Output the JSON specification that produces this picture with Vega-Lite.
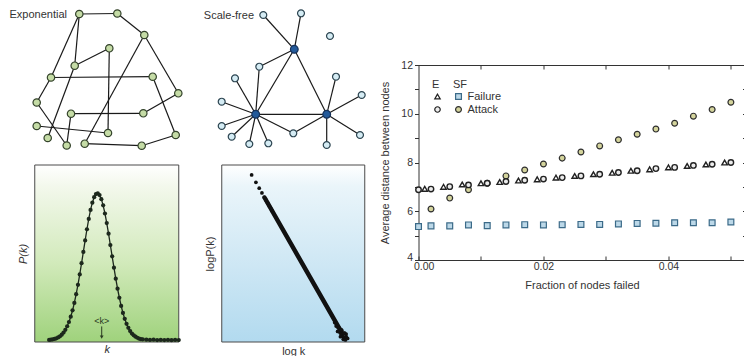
{
  "$schema": "https://vega.github.io/schema/vega-lite/v6.json",
  "padding": 0,
  "background": "white",
  "config": {
    "font": "Liberation Sans",
    "view": {"stroke": null},
    "axis": {"grid": false, "labelColor": "#333", "titleColor": "#333", "tickColor": "#333", "titleFontWeight": "normal", "labelFontSize": 11, "titleFontSize": 11},
    "legend": {"titleFontSize": 11, "titleFontWeight": "normal", "labelFontSize": 11, "titleColor": "#333", "labelColor": "#333", "symbolStrokeWidth": 1.2, "rowPadding": 1, "titlePadding": 1, "padding": 0, "labelOffset": 3.5}
  },
  "datasets": {
    "enodes": [
      {"id": "A", "x": 79.3, "y": 14}, {"id": "B", "x": 117.3, "y": 13.5}, {"id": "C", "x": 144.3, "y": 35},
      {"id": "D", "x": 109.3, "y": 48.3}, {"id": "E", "x": 74.7, "y": 65.7}, {"id": "F", "x": 51, "y": 77.5},
      {"id": "G", "x": 152.7, "y": 76.7}, {"id": "H", "x": 178.3, "y": 93.3}, {"id": "I", "x": 36.7, "y": 102.5},
      {"id": "J", "x": 71, "y": 113.7}, {"id": "K", "x": 143.3, "y": 113.3}, {"id": "L", "x": 36.7, "y": 126},
      {"id": "M", "x": 108, "y": 133}, {"id": "N", "x": 175.7, "y": 135}, {"id": "O", "x": 47.7, "y": 138},
      {"id": "P", "x": 66.7, "y": 145.5}, {"id": "Q", "x": 84.7, "y": 143.7}, {"id": "R", "x": 141.7, "y": 145.7}
    ],
    "eedges": [
      {"s": "A", "t": "B"}, {"s": "B", "t": "C"}, {"s": "C", "t": "H"}, {"s": "C", "t": "Q"}, {"s": "A", "t": "F"},
      {"s": "F", "t": "I"}, {"s": "A", "t": "E"}, {"s": "E", "t": "D"}, {"s": "E", "t": "O"}, {"s": "D", "t": "M"},
      {"s": "F", "t": "G"}, {"s": "G", "t": "N"}, {"s": "H", "t": "K"}, {"s": "K", "t": "J"}, {"s": "J", "t": "P"},
      {"s": "I", "t": "P"}, {"s": "L", "t": "M"}, {"s": "Q", "t": "R"}, {"s": "N", "t": "R"}
    ],
    "snodes": [
      {"id": "a", "x": 263.3, "y": 15, "kind": "leaf"}, {"id": "b", "x": 301, "y": 13.3, "kind": "leaf"},
      {"id": "c", "x": 330, "y": 36, "kind": "leaf"}, {"id": "d", "x": 259.3, "y": 66.7, "kind": "leaf"},
      {"id": "e", "x": 235, "y": 78.3, "kind": "leaf"}, {"id": "f", "x": 221.7, "y": 101.7, "kind": "leaf"},
      {"id": "g", "x": 221.7, "y": 126, "kind": "leaf"}, {"id": "h", "x": 231.7, "y": 136.7, "kind": "leaf"},
      {"id": "i", "x": 249.3, "y": 144, "kind": "leaf"}, {"id": "j", "x": 268.3, "y": 143.3, "kind": "leaf"},
      {"id": "k", "x": 293.3, "y": 133.3, "kind": "leaf"}, {"id": "l", "x": 336, "y": 76.7, "kind": "leaf"},
      {"id": "m", "x": 361.7, "y": 95, "kind": "leaf"}, {"id": "n", "x": 360, "y": 135, "kind": "leaf"},
      {"id": "o", "x": 326.7, "y": 145, "kind": "leaf"},
      {"id": "H1", "x": 294.3, "y": 49.3, "kind": "hub"}, {"id": "H2", "x": 255.7, "y": 114.3, "kind": "hub"},
      {"id": "H3", "x": 326.7, "y": 114.3, "kind": "hub"}
    ],
    "sedges": [
      {"s": "H1", "t": "H2"}, {"s": "H1", "t": "H3"}, {"s": "H2", "t": "H3"}, {"s": "H1", "t": "a"}, {"s": "H1", "t": "b"},
      {"s": "H1", "t": "d"}, {"s": "H2", "t": "d"}, {"s": "H2", "t": "e"}, {"s": "H2", "t": "f"}, {"s": "H2", "t": "g"},
      {"s": "H2", "t": "h"}, {"s": "H2", "t": "i"}, {"s": "H2", "t": "j"}, {"s": "H2", "t": "k"}, {"s": "H3", "t": "k"},
      {"s": "H3", "t": "l"}, {"s": "H3", "t": "m"}, {"s": "H3", "t": "n"}, {"s": "H3", "t": "o"}
    ],
    "pk": [
      {"k": 4, "p": 0.012}, {"k": 4.5, "p": 0.013}, {"k": 5, "p": 0.015}, {"k": 5.5, "p": 0.017}, {"k": 6, "p": 0.021},
      {"k": 6.5, "p": 0.026}, {"k": 7, "p": 0.032}, {"k": 7.5, "p": 0.041}, {"k": 8, "p": 0.053}, {"k": 8.5, "p": 0.069},
      {"k": 9, "p": 0.089}, {"k": 9.5, "p": 0.113}, {"k": 10, "p": 0.143}, {"k": 10.5, "p": 0.179}, {"k": 11, "p": 0.221},
      {"k": 11.5, "p": 0.27}, {"k": 12, "p": 0.323}, {"k": 12.5, "p": 0.382}, {"k": 13, "p": 0.445}, {"k": 13.5, "p": 0.509},
      {"k": 14, "p": 0.574}, {"k": 14.5, "p": 0.637}, {"k": 15, "p": 0.695}, {"k": 15.5, "p": 0.746}, {"k": 16, "p": 0.787},
      {"k": 16.5, "p": 0.818}, {"k": 17, "p": 0.836}, {"k": 17.5, "p": 0.84}, {"k": 18, "p": 0.83}, {"k": 18.5, "p": 0.807},
      {"k": 19, "p": 0.772}, {"k": 19.5, "p": 0.726}, {"k": 20, "p": 0.672}, {"k": 20.5, "p": 0.612}, {"k": 21, "p": 0.548},
      {"k": 21.5, "p": 0.484}, {"k": 22, "p": 0.42}, {"k": 22.5, "p": 0.358}, {"k": 23, "p": 0.301}, {"k": 23.5, "p": 0.25},
      {"k": 24, "p": 0.204}, {"k": 24.5, "p": 0.164}, {"k": 25, "p": 0.131}, {"k": 25.5, "p": 0.103}, {"k": 26, "p": 0.08},
      {"k": 26.5, "p": 0.062}, {"k": 27, "p": 0.048}, {"k": 27.5, "p": 0.038}, {"k": 28, "p": 0.03}, {"k": 28.5, "p": 0.024},
      {"k": 29, "p": 0.019}, {"k": 29.5, "p": 0.016}, {"k": 30, "p": 0.015}, {"k": 31, "p": 0.013}, {"k": 32, "p": 0.012},
      {"k": 33, "p": 0.013}, {"k": 34, "p": 0.011}, {"k": 35, "p": 0.012}, {"k": 36, "p": 0.011}, {"k": 37, "p": 0.012},
      {"k": 38, "p": 0.01}, {"k": 39, "p": 0.012}, {"k": 40, "p": 0.011}
    ],
    "logpts": [
      {"lk": 0.209, "lp": 0.944}, {"lk": 0.239, "lp": 0.902}, {"lk": 0.262, "lp": 0.869}, {"lk": 0.281, "lp": 0.842},
      {"lk": 0.297, "lp": 0.819}, {"lk": 0.31, "lp": 0.801}, {"lk": 0.322, "lp": 0.784}, {"lk": 0.333, "lp": 0.768},
      {"lk": 0.343, "lp": 0.754}, {"lk": 0.352, "lp": 0.741}, {"lk": 0.8, "lp": 0.09}, {"lk": 0.81, "lp": 0.085},
      {"lk": 0.82, "lp": 0.06}, {"lk": 0.83, "lp": 0.05}, {"lk": 0.84, "lp": 0.04}, {"lk": 0.85, "lp": 0.03},
      {"lk": 0.86, "lp": 0.025}, {"lk": 0.84, "lp": 0.065}, {"lk": 0.82, "lp": 0.08}, {"lk": 0.86, "lp": 0.05},
      {"lk": 0.87, "lp": 0.03}, {"lk": 0.85, "lp": 0.015}, {"lk": 0.83, "lp": 0.03}, {"lk": 0.88, "lp": 0.02},
      {"lk": 0.79, "lp": 0.11}, {"lk": 0.81, "lp": 0.06}, {"lk": 0.87, "lp": 0.045}, {"lk": 0.855, "lp": 0.05},
      {"lk": 0.835, "lp": 0.07}, {"lk": 0.865, "lp": 0.012}
    ],
    "logline": [{"lk": 0.3, "lp": 0.815}, {"lk": 0.835, "lp": 0.058}],
    "robust": [
      {"net": "SF", "test": "Failure", "f": 0, "d": 5.37}, {"net": "SF", "test": "Failure", "f": 0.002, "d": 5.4},
      {"net": "SF", "test": "Failure", "f": 0.005, "d": 5.4}, {"net": "SF", "test": "Failure", "f": 0.008, "d": 5.44},
      {"net": "SF", "test": "Failure", "f": 0.011, "d": 5.41}, {"net": "SF", "test": "Failure", "f": 0.014, "d": 5.44},
      {"net": "SF", "test": "Failure", "f": 0.017, "d": 5.45}, {"net": "SF", "test": "Failure", "f": 0.02, "d": 5.44},
      {"net": "SF", "test": "Failure", "f": 0.023, "d": 5.45}, {"net": "SF", "test": "Failure", "f": 0.026, "d": 5.46},
      {"net": "SF", "test": "Failure", "f": 0.029, "d": 5.46}, {"net": "SF", "test": "Failure", "f": 0.032, "d": 5.48},
      {"net": "SF", "test": "Failure", "f": 0.035, "d": 5.5}, {"net": "SF", "test": "Failure", "f": 0.038, "d": 5.51},
      {"net": "SF", "test": "Failure", "f": 0.041, "d": 5.53}, {"net": "SF", "test": "Failure", "f": 0.044, "d": 5.53},
      {"net": "SF", "test": "Failure", "f": 0.047, "d": 5.53}, {"net": "SF", "test": "Failure", "f": 0.05, "d": 5.56},
      {"net": "SF", "test": "Attack", "f": 0.002, "d": 6.09}, {"net": "SF", "test": "Attack", "f": 0.005, "d": 6.54},
      {"net": "SF", "test": "Attack", "f": 0.008, "d": 6.88}, {"net": "SF", "test": "Attack", "f": 0.011, "d": 7.15},
      {"net": "SF", "test": "Attack", "f": 0.014, "d": 7.45}, {"net": "SF", "test": "Attack", "f": 0.017, "d": 7.69},
      {"net": "SF", "test": "Attack", "f": 0.02, "d": 7.94}, {"net": "SF", "test": "Attack", "f": 0.023, "d": 8.18},
      {"net": "SF", "test": "Attack", "f": 0.026, "d": 8.43}, {"net": "SF", "test": "Attack", "f": 0.029, "d": 8.68},
      {"net": "SF", "test": "Attack", "f": 0.032, "d": 8.93}, {"net": "SF", "test": "Attack", "f": 0.035, "d": 9.16},
      {"net": "SF", "test": "Attack", "f": 0.038, "d": 9.37}, {"net": "SF", "test": "Attack", "f": 0.041, "d": 9.61},
      {"net": "SF", "test": "Attack", "f": 0.044, "d": 9.9}, {"net": "SF", "test": "Attack", "f": 0.047, "d": 10.17},
      {"net": "SF", "test": "Attack", "f": 0.05, "d": 10.47},
      {"net": "E", "test": "Failure", "f": 0.001, "d": 6.92}, {"net": "E", "test": "Failure", "f": 0.004, "d": 7.0},
      {"net": "E", "test": "Failure", "f": 0.007, "d": 7.1}, {"net": "E", "test": "Failure", "f": 0.01, "d": 7.15},
      {"net": "E", "test": "Failure", "f": 0.013, "d": 7.2}, {"net": "E", "test": "Failure", "f": 0.016, "d": 7.26},
      {"net": "E", "test": "Failure", "f": 0.019, "d": 7.31}, {"net": "E", "test": "Failure", "f": 0.022, "d": 7.38},
      {"net": "E", "test": "Failure", "f": 0.025, "d": 7.45}, {"net": "E", "test": "Failure", "f": 0.028, "d": 7.52},
      {"net": "E", "test": "Failure", "f": 0.031, "d": 7.58}, {"net": "E", "test": "Failure", "f": 0.034, "d": 7.66},
      {"net": "E", "test": "Failure", "f": 0.037, "d": 7.72}, {"net": "E", "test": "Failure", "f": 0.04, "d": 7.8},
      {"net": "E", "test": "Failure", "f": 0.043, "d": 7.86}, {"net": "E", "test": "Failure", "f": 0.046, "d": 7.92},
      {"net": "E", "test": "Failure", "f": 0.049, "d": 8.0},
      {"net": "E", "test": "Attack", "f": 0, "d": 6.88}, {"net": "E", "test": "Attack", "f": 0.002, "d": 6.91},
      {"net": "E", "test": "Attack", "f": 0.005, "d": 7.01}, {"net": "E", "test": "Attack", "f": 0.008, "d": 7.08},
      {"net": "E", "test": "Attack", "f": 0.011, "d": 7.15}, {"net": "E", "test": "Attack", "f": 0.014, "d": 7.22},
      {"net": "E", "test": "Attack", "f": 0.017, "d": 7.27}, {"net": "E", "test": "Attack", "f": 0.02, "d": 7.32},
      {"net": "E", "test": "Attack", "f": 0.023, "d": 7.38}, {"net": "E", "test": "Attack", "f": 0.026, "d": 7.45},
      {"net": "E", "test": "Attack", "f": 0.029, "d": 7.52}, {"net": "E", "test": "Attack", "f": 0.032, "d": 7.59},
      {"net": "E", "test": "Attack", "f": 0.035, "d": 7.66}, {"net": "E", "test": "Attack", "f": 0.038, "d": 7.75},
      {"net": "E", "test": "Attack", "f": 0.041, "d": 7.8}, {"net": "E", "test": "Attack", "f": 0.044, "d": 7.88},
      {"net": "E", "test": "Attack", "f": 0.047, "d": 7.93}, {"net": "E", "test": "Attack", "f": 0.05, "d": 8.0}
    ]
  },
  "hconcat": [
    {
      "vconcat": [
        {
          "hconcat": [
            {
              "width": 198, "height": 156,
              "layer": [
                {
                  "data": {"name": "eedges"},
                  "transform": [
                    {"lookup": "s", "from": {"data": {"name": "enodes"}, "key": "id", "fields": ["x", "y"]}, "as": ["x1", "y1"]},
                    {"lookup": "t", "from": {"data": {"name": "enodes"}, "key": "id", "fields": ["x", "y"]}, "as": ["x2", "y2"]}
                  ],
                  "mark": {"type": "rule", "color": "#1a1a1a", "strokeWidth": 1.2},
                  "encoding": {
                    "x": {"field": "x1", "type": "quantitative", "scale": {"domain": [0, 198], "nice": false, "zero": false}, "axis": null},
                    "y": {"field": "y1", "type": "quantitative", "scale": {"domain": [0, 156], "nice": false, "zero": false, "reverse": true}, "axis": null},
                    "x2": {"field": "x2"}, "y2": {"field": "y2"}
                  }
                },
                {
                  "data": {"name": "enodes"},
                  "mark": {"type": "point", "shape": "circle", "filled": true, "size": 55, "fill": "#c5dca6", "stroke": "#34432c", "strokeWidth": 1.2, "opacity": 1},
                  "encoding": {
                    "x": {"field": "x", "type": "quantitative", "axis": null},
                    "y": {"field": "y", "type": "quantitative", "axis": null}
                  }
                },
                {
                  "data": {"values": [{"label": "Exponential"}]},
                  "mark": {"type": "text", "align": "right", "baseline": "middle", "fontSize": 11, "color": "#333"},
                  "encoding": {"x": {"datum": 67}, "y": {"datum": 14.5}, "text": {"field": "label"}}
                }
              ]
            },
            {
              "width": 202, "height": 156,
              "layer": [
                {
                  "data": {"name": "sedges"},
                  "transform": [
                    {"lookup": "s", "from": {"data": {"name": "snodes"}, "key": "id", "fields": ["x", "y"]}, "as": ["x1", "y1"]},
                    {"lookup": "t", "from": {"data": {"name": "snodes"}, "key": "id", "fields": ["x", "y"]}, "as": ["x2", "y2"]}
                  ],
                  "mark": {"type": "rule", "color": "#1a1a1a", "strokeWidth": 1.2},
                  "encoding": {
                    "x": {"field": "x1", "type": "quantitative", "scale": {"domain": [198, 400], "nice": false, "zero": false}, "axis": null},
                    "y": {"field": "y1", "type": "quantitative", "scale": {"domain": [0, 156], "nice": false, "zero": false, "reverse": true}, "axis": null},
                    "x2": {"field": "x2"}, "y2": {"field": "y2"}
                  }
                },
                {
                  "data": {"name": "snodes"},
                  "mark": {"type": "point", "shape": "circle", "filled": true, "strokeWidth": 1.2, "opacity": 1},
                  "encoding": {
                    "x": {"field": "x", "type": "quantitative", "axis": null},
                    "y": {"field": "y", "type": "quantitative", "axis": null},
                    "fill": {"field": "kind", "type": "nominal", "scale": {"domain": ["hub", "leaf"], "range": ["#235a9a", "#d5ecf4"]}, "legend": null},
                    "stroke": {"field": "kind", "type": "nominal", "scale": {"domain": ["hub", "leaf"], "range": ["#17325a", "#2c4450"]}, "legend": null},
                    "size": {"field": "kind", "type": "nominal", "scale": {"domain": ["hub", "leaf"], "range": [60, 48]}, "legend": null}
                  }
                },
                {
                  "data": {"values": [{"label": "Scale-free"}]},
                  "mark": {"type": "text", "align": "right", "baseline": "middle", "fontSize": 11, "color": "#333"},
                  "encoding": {"x": {"datum": 254}, "y": {"datum": 16}, "text": {"field": "label"}}
                }
              ]
            }
          ],
          "spacing": 0
        },
        {
          "hconcat": [
            {
              "width": 144, "height": 177,
              "layer": [
                {
                  "data": {"values": [{"k0": 0, "k1": 40, "p0": 0, "p1": 1}]},
                  "mark": {"type": "rect", "stroke": "#4a4a4a", "strokeWidth": 1,
                    "fill": {"gradient": "linear", "x1": 0, "y1": 0, "x2": 0, "y2": 1,
                      "stops": [{"offset": 0, "color": "#ffffff"}, {"offset": 0.12, "color": "#f3f8ec"}, {"offset": 0.55, "color": "#d2eabb"}, {"offset": 1, "color": "#9fd27c"}]}},
                  "encoding": {
                    "x": {"field": "k0", "type": "quantitative", "scale": {"domain": [0, 40], "nice": false, "zero": false},
                      "axis": {"title": "k", "labels": false, "ticks": false, "domain": false, "titleFontStyle": "italic", "titlePadding": 1}},
                    "x2": {"field": "k1"},
                    "y": {"field": "p0", "type": "quantitative", "scale": {"domain": [0, 1], "nice": false, "zero": false},
                      "axis": {"title": "P(k)", "labels": false, "ticks": false, "domain": false, "titleFontStyle": "italic", "titlePadding": 6}},
                    "y2": {"field": "p1"}
                  }
                },
                {
                  "data": {"name": "pk"},
                  "mark": {"type": "line", "color": "#1c281c", "strokeWidth": 1.3},
                  "encoding": {
                    "x": {"field": "k", "type": "quantitative", "axis": {"title": "k", "labels": false, "ticks": false, "domain": false, "titleFontStyle": "italic", "titlePadding": 1}},
                    "y": {"field": "p", "type": "quantitative", "axis": {"title": "P(k)", "labels": false, "ticks": false, "domain": false, "titleFontStyle": "italic", "titlePadding": 6}}
                  }
                },
                {
                  "data": {"name": "pk"},
                  "mark": {"type": "point", "shape": "circle", "filled": true, "size": 18, "color": "#1c281c", "opacity": 1},
                  "encoding": {
                    "x": {"field": "k", "type": "quantitative", "axis": {"title": "k", "labels": false, "ticks": false, "domain": false, "titleFontStyle": "italic", "titlePadding": 1}},
                    "y": {"field": "p", "type": "quantitative", "axis": {"title": "P(k)", "labels": false, "ticks": false, "domain": false, "titleFontStyle": "italic", "titlePadding": 6}}
                  }
                },
                {
                  "data": {"values": [{"k": 18.6, "label": "<k>"}]},
                  "mark": {"type": "text", "fontSize": 9, "color": "#2b3a22", "baseline": "middle"},
                  "encoding": {
                    "x": {"field": "k", "type": "quantitative", "axis": {"title": "k", "labels": false, "ticks": false, "domain": false, "titleFontStyle": "italic", "titlePadding": 1}},
                    "y": {"datum": 0.118, "type": "quantitative", "axis": {"title": "P(k)", "labels": false, "ticks": false, "domain": false, "titleFontStyle": "italic", "titlePadding": 6}},
                    "text": {"field": "label"}
                  }
                },
                {
                  "data": {"values": [{"k": 18.6, "top": 0.088, "bottom": 0.03}]},
                  "mark": {"type": "rule", "color": "#2b3a22", "strokeWidth": 1},
                  "encoding": {
                    "x": {"field": "k", "type": "quantitative", "axis": {"title": "k", "labels": false, "ticks": false, "domain": false, "titleFontStyle": "italic", "titlePadding": 1}},
                    "y": {"field": "top", "type": "quantitative", "axis": {"title": "P(k)", "labels": false, "ticks": false, "domain": false, "titleFontStyle": "italic", "titlePadding": 6}},
                    "y2": {"field": "bottom"}
                  }
                },
                {
                  "data": {"values": [{"k": 18.6, "tip": 0.028}]},
                  "mark": {"type": "point", "shape": "triangle-down", "filled": true, "size": 14, "color": "#2b3a22", "opacity": 1},
                  "encoding": {
                    "x": {"field": "k", "type": "quantitative", "axis": {"title": "k", "labels": false, "ticks": false, "domain": false, "titleFontStyle": "italic", "titlePadding": 1}},
                    "y": {"field": "tip", "type": "quantitative", "axis": {"title": "P(k)", "labels": false, "ticks": false, "domain": false, "titleFontStyle": "italic", "titlePadding": 6}}
                  }
                }
              ]
            },
            {
              "width": 143, "height": 177,
              "layer": [
                {
                  "data": {"values": [{"a0": 0, "a1": 1, "b0": 0, "b1": 1}]},
                  "mark": {"type": "rect", "stroke": "#4a4a4a", "strokeWidth": 1,
                    "fill": {"gradient": "linear", "x1": 0, "y1": 0, "x2": 0, "y2": 1,
                      "stops": [{"offset": 0, "color": "#ffffff"}, {"offset": 0.12, "color": "#eaf5fa"}, {"offset": 0.5, "color": "#d2e9f5"}, {"offset": 1, "color": "#b2daef"}]}},
                  "encoding": {
                    "x": {"field": "a0", "type": "quantitative", "scale": {"domain": [0, 1], "nice": false, "zero": false},
                      "axis": {"title": "log k", "labels": false, "ticks": false, "domain": false, "titlePadding": 3}},
                    "x2": {"field": "a1"},
                    "y": {"field": "b0", "type": "quantitative", "scale": {"domain": [0, 1], "nice": false, "zero": false},
                      "axis": {"title": "logP(k)", "labels": false, "ticks": false, "domain": false, "titlePadding": 6}},
                    "y2": {"field": "b1"}
                  }
                },
                {
                  "data": {"name": "logline"},
                  "mark": {"type": "line", "color": "#111111", "strokeWidth": 4.5, "strokeCap": "round"},
                  "encoding": {
                    "x": {"field": "lk", "type": "quantitative", "axis": {"title": "log k", "labels": false, "ticks": false, "domain": false, "titlePadding": 3}},
                    "y": {"field": "lp", "type": "quantitative", "axis": {"title": "logP(k)", "labels": false, "ticks": false, "domain": false, "titlePadding": 6}}
                  }
                },
                {
                  "data": {"name": "logpts"},
                  "mark": {"type": "point", "shape": "circle", "filled": true, "size": 14, "color": "#111111", "opacity": 1},
                  "encoding": {
                    "x": {"field": "lk", "type": "quantitative", "axis": {"title": "log k", "labels": false, "ticks": false, "domain": false, "titlePadding": 3}},
                    "y": {"field": "lp", "type": "quantitative", "axis": {"title": "logP(k)", "labels": false, "ticks": false, "domain": false, "titlePadding": 6}}
                  }
                }
              ]
            }
          ],
          "spacing": 23
        }
      ],
      "spacing": 8, "center": true
    },
    {
      "width": 328, "height": 195,
      "title": {"text": "Fraction of nodes failed", "orient": "bottom", "anchor": "middle", "offset": 8, "fontSize": 11, "fontWeight": "normal", "color": "#333"},
      "view": {"stroke": "#333333", "strokeWidth": 1},
      "data": {"name": "robust"},
      "resolve": {"scale": {"shape": "independent", "fill": "independent", "stroke": "independent"}, "axis": {"x": "independent", "y": "independent"}},
      "layer": [
        {
          "transform": [{"filter": "datum.net == 'SF'"}],
          "mark": {"type": "point", "filled": true, "size": 34, "strokeWidth": 1.2, "opacity": 1},
          "encoding": {
            "x": {"field": "f", "type": "quantitative", "scale": {"domain": [0, 0.0525], "nice": false, "zero": false},
              "axis": {"orient": "bottom", "values": [0, 0.01, 0.02, 0.03, 0.04, 0.05], "labelExpr": "round(datum.value*100) % 2 == 0 ? format(datum.value, '.2f') : ''", "labelFlush": true, "labelFlushOffset": 5, "labelFontSize": 10.5, "tickSize": -4, "domain": false, "labelPadding": 5, "title": null}},
            "y": {"field": "d", "type": "quantitative", "scale": {"domain": [4, 12], "nice": false, "zero": false},
              "axis": {"orient": "left", "values": [4, 5, 6, 7, 8, 9, 10, 11, 12], "labelExpr": "datum.value % 2 == 0 ? datum.label : ''", "labelFlush": false, "labelFontSize": 10.5,
                "labelBaseline": {"condition": {"test": "datum.value == 4", "value": "alphabetic"}, "value": "middle"},
                "tickSize": 4, "domain": false, "labelPadding": 2, "title": "Average distance between nodes", "titlePadding": 10}},
            "shape": {"field": "test", "type": "nominal", "scale": {"domain": ["Failure", "Attack"], "range": ["square", "circle"]},
              "legend": {"title": "SF", "orient": "none", "legendX": 34.5, "legendY": 14, "symbolSize": 34}},
            "fill": {"field": "test", "type": "nominal", "scale": {"domain": ["Failure", "Attack"], "range": ["#bcd8e8", "#d4d49c"]},
              "legend": {"title": "SF", "orient": "none", "legendX": 34.5, "legendY": 14, "symbolSize": 34}},
            "stroke": {"field": "test", "type": "nominal", "scale": {"domain": ["Failure", "Attack"], "range": ["#3b6a88", "#2e2e2e"]},
              "legend": {"title": "SF", "orient": "none", "legendX": 34.5, "legendY": 14, "symbolSize": 34}}
          }
        },
        {
          "transform": [{"filter": "datum.net == 'E'"}],
          "mark": {"type": "point", "filled": true, "size": 30, "strokeWidth": 1.4, "opacity": 1},
          "encoding": {
            "x": {"field": "f", "type": "quantitative",
              "axis": {"orient": "top", "values": [0.01, 0.02, 0.03, 0.04, 0.05], "labels": false, "tickSize": -4, "domain": false, "title": null}},
            "y": {"field": "d", "type": "quantitative",
              "axis": {"orient": "right", "values": [5, 6, 7, 8, 9, 10, 11], "labels": false, "tickSize": -4, "domain": false, "title": null}},
            "shape": {"field": "test", "type": "nominal", "scale": {"domain": ["Failure", "Attack"], "range": ["triangle-up", "circle"]},
              "legend": {"title": "E", "orient": "none", "legendX": 13.5, "legendY": 14, "labelExpr": "''", "symbolSize": 30}},
            "fill": {"field": "test", "type": "nominal", "scale": {"domain": ["Failure", "Attack"], "range": ["#ffffff", "#ececec"]},
              "legend": {"title": "E", "orient": "none", "legendX": 13.5, "legendY": 14, "labelExpr": "''", "symbolSize": 30}},
            "stroke": {"field": "test", "type": "nominal", "scale": {"domain": ["Failure", "Attack"], "range": ["#222222", "#222222"]},
              "legend": {"title": "E", "orient": "none", "legendX": 13.5, "legendY": 14, "labelExpr": "''", "symbolSize": 30}}
          }
        }
      ]
    }
  ],
  "spacing": -21.5, "center": true
}
